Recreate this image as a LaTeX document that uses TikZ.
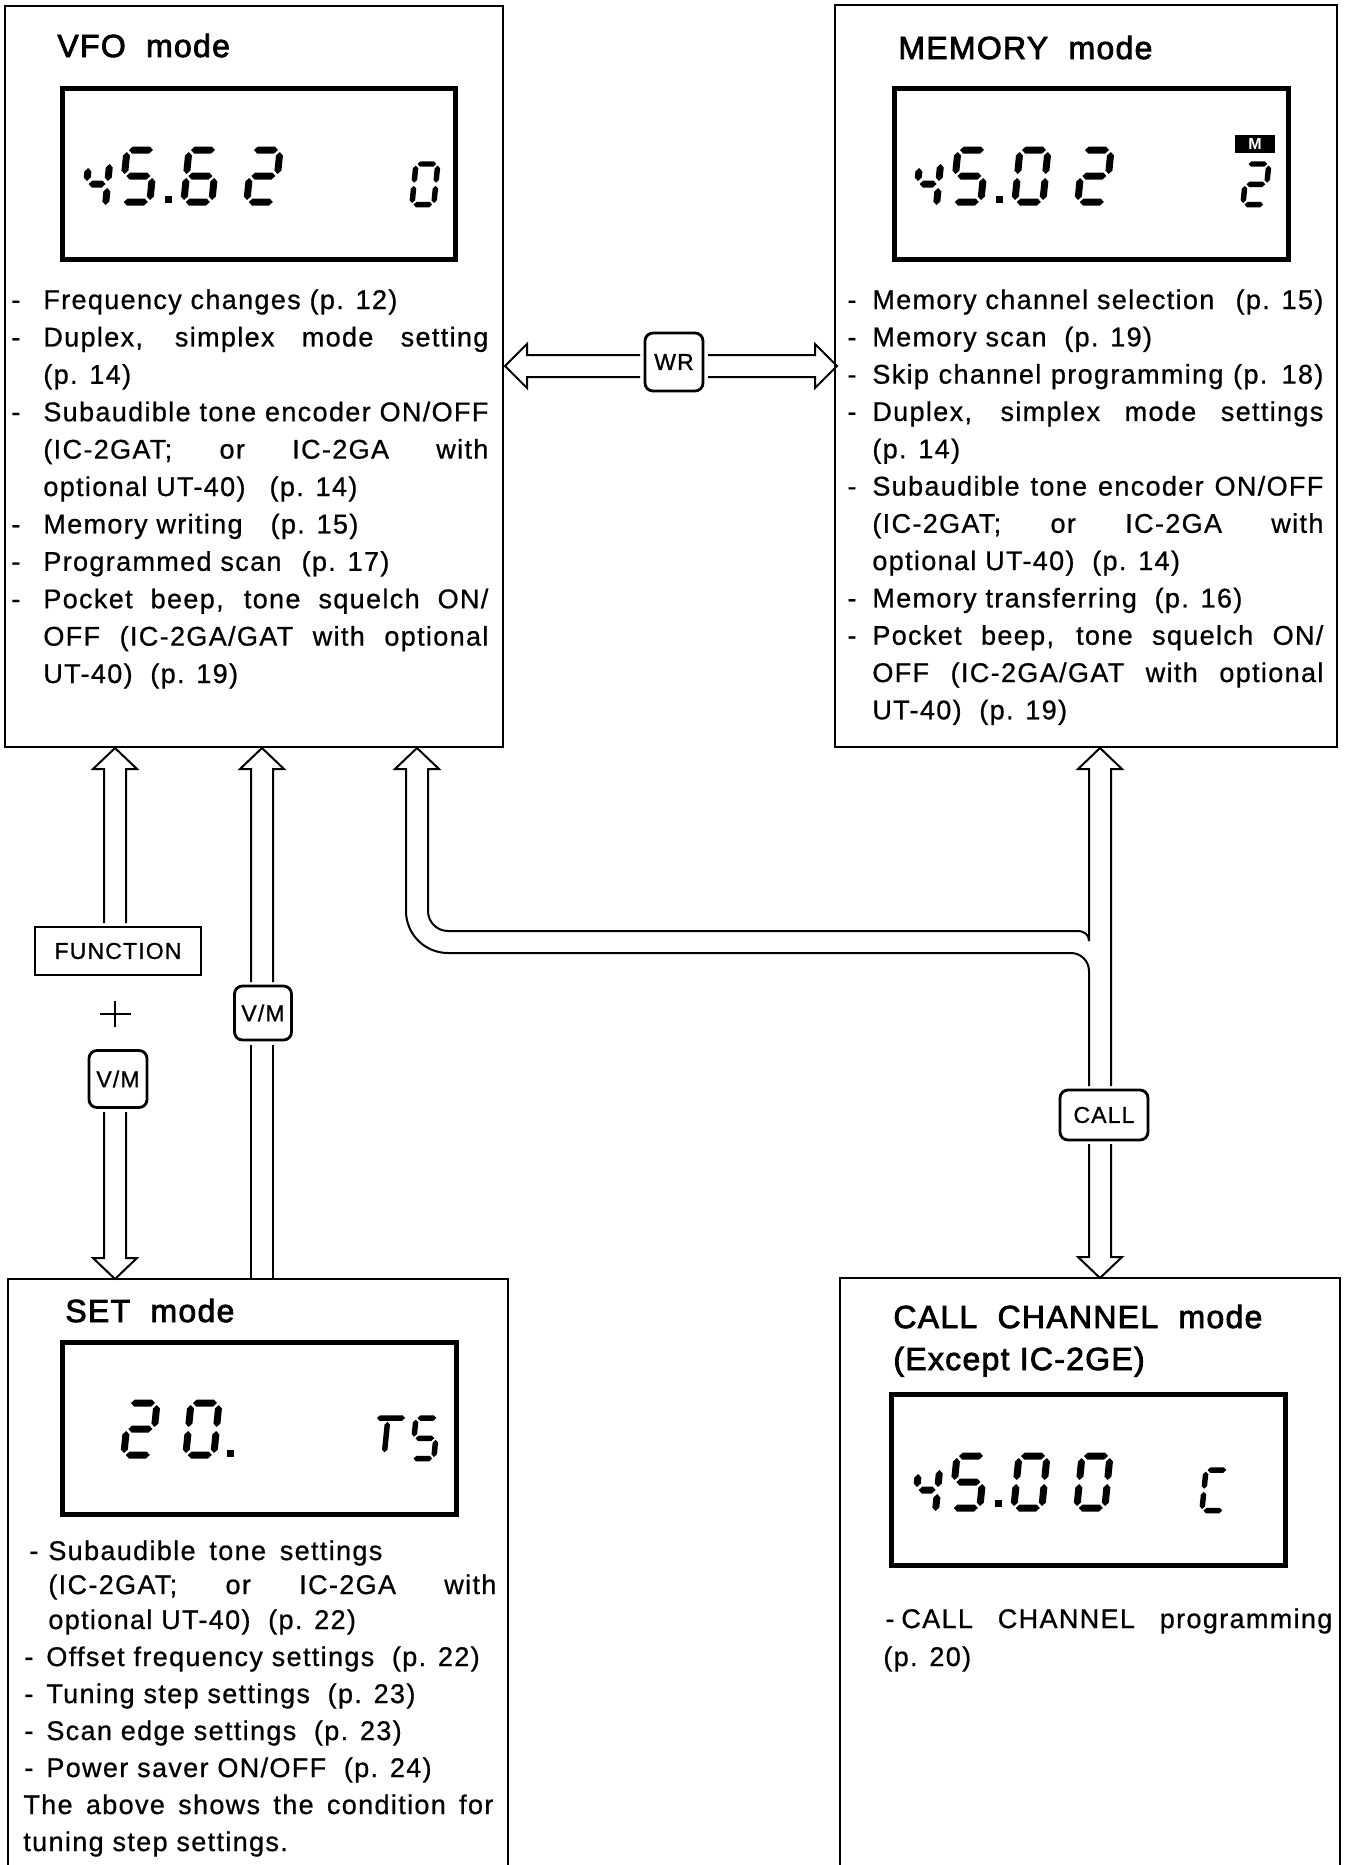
\documentclass[tikz,border=0pt]{standalone}
\usepackage{fontspec}
\setmainfont{Liberation Sans}[LetterSpace=5,FakeBold=0.8]
\newfontfamily\titlefont{Liberation Sans}[LetterSpace=4,FakeBold=2.5]
\newfontfamily\keyfont{Liberation Sans}[LetterSpace=5,FakeBold=1]
\newfontfamily\mfont{Liberation Sans Bold}
\usetikzlibrary{calc}

% seven-segment pieces (local units = px, y downwards)
\newcommand{\hsg}[3]{\fill (#1,#3) -- ({#1+3.5},{#3-3.5}) -- ({#2-3.5},{#3-3.5}) -- (#2,#3) -- ({#2-3.5},{#3+3.5}) -- ({#1+3.5},{#3+3.5}) -- cycle;}
\newcommand{\vsg}[3]{\fill (#1,#2) -- ({#1+3.5},{#2+3.5}) -- ({#1+3.5},{#3-3.5}) -- (#1,#3) -- ({#1-3.5},{#3-3.5}) -- ({#1-3.5},{#2+3.5}) -- cycle;}
\newcommand{\sega}{\hsg{2}{26}{0}}
\newcommand{\segb}{\vsg{28}{2}{24}}
\newcommand{\segc}{\vsg{28}{28}{50}}
\newcommand{\segd}{\hsg{2}{26}{52}}
\newcommand{\sege}{\vsg{0}{28}{50}}
\newcommand{\segf}{\vsg{0}{2}{24}}
\newcommand{\segg}{\hsg{2}{26}{26}}
\newcommand{\lcddig}[4][1]{\begin{scope}[shift={(#2,#3)},xslant=0.1,scale=#1]\foreach \s in {#4}{\csname seg\s\endcsname}\end{scope}}
\newcommand{\halffour}[2]{\begin{scope}[shift={(#1,#2)},xslant=0.1]\vsg{0}{18}{31}\vsg{21}{14}{31}\hsg{2}{19}{34}\vsg{21}{38}{55}\end{scope}}
\newcommand{\lcdpt}[2]{\fill ({#1-3.5},{#2-3.5}) rectangle ({#1+3.5},{#2+3.5});}

% hollow arrows
\newcommand{\uparr}[3]{\draw[hollow] ({#1-11},#3) -- ({#1-11},{#2+21}) -- ({#1-22},{#2+21}) -- (#1,#2) -- ({#1+22},{#2+21}) -- ({#1+11},{#2+21}) -- ({#1+11},#3);}
\newcommand{\downarr}[3]{\draw[hollow] ({#1-11},#3) -- ({#1-11},{#2-21}) -- ({#1-22},{#2-21}) -- (#1,#2) -- ({#1+22},{#2-21}) -- ({#1+11},{#2-21}) -- ({#1+11},#3);}
\newcommand{\shaftv}[3]{\draw[hollow] ({#1-11},#2) -- ({#1-11},#3) ({#1+11},#2) -- ({#1+11},#3);}

% text helpers
\newcommand{\js}[2]{\makebox[#1][s]{#2}}
\newcommand{\tl}[4]{\node[txt] (#1) at (#2,#3) {#4};}
\newcommand{\bl}[5]{\node[txt] (#1d) at (#2,#4) {-};\node[txt] (#1) at (#3,#4) {#5};}

\tikzset{
  frame/.style={line width=1pt},
  lcdframe/.style={draw,line width=2.4pt,inner sep=0pt,minimum width=196.7pt,minimum height=85.7pt},
  hollow/.style={line width=1pt,line join=miter},
  keyr/.style={draw,line width=1.4pt,rounded corners=4pt,inner sep=0pt,font=\keyfont\fontsize{11.5pt}{12pt}\selectfont},
  keysq/.style={draw,line width=1.3pt,inner sep=0pt,font=\keyfont\fontsize{11.5pt}{12pt}\selectfont},
  txt/.style={anchor=base west,inner sep=0pt,font=\fontsize{13.5pt}{15pt}\selectfont},
  ttl/.style={anchor=base west,inner sep=0pt,font=\titlefont\fontsize{16pt}{18pt}\selectfont},
}

\begin{document}
\begin{tikzpicture}[x=0.5pt,y=-0.5pt]
\useasboundingbox (0,0) rectangle (1347,1865);

% ---------------- mode boxes
\node[draw,frame,inner sep=0pt,minimum width=249pt,minimum height=370.5pt] (vfo) at (254,376.5) {};
\node[draw,frame,inner sep=0pt,minimum width=251pt,minimum height=371pt] (mem) at (1086,376) {};
\draw[frame] (8,1865) -- (8,1279) -- (508,1279) -- (508,1865);
\draw[frame] (840,1865) -- (840,1278) -- (1340,1278) -- (1340,1865);

% ---------------- titles
\node[ttl] (vfoT) at (57,57) {VFO\ \ mode};
\node[ttl] (memT) at (898,59) {MEMORY\ \ mode};
\node[ttl] (setT) at (65,1322) {SET\ \ mode};
\node[ttl] (callT) at (893,1328) {CALL\ \ CHANNEL\ \ mode};
\node[ttl] (callT2) at (893,1370) {(Except IC-2GE)};

% ---------------- LCDs
\node[lcdframe] (lcdV) at (259,174) {};
\node[lcdframe] (lcdM) at (1091.5,174) {};
\node[lcdframe] (lcdS) at (259.5,1428.5) {};
\node[lcdframe] (lcdC) at (1088.5,1480) {};

% VFO display 45.62  0
\halffour{90}{150}
\lcddig{127}{150}{a,f,g,c,d}
\lcdpt{168}{199}
\lcddig{189}{150}{a,f,g,e,c,d}
\lcddig{252}{150}{a,b,g,e,d}
\lcddig[0.78]{416}{164}{a,b,c,d,e,f}

% MEMORY display 45.02  M 2
\halffour{921}{150}
\lcddig{958}{150}{a,f,g,c,d}
\lcdpt{999}{199}
\lcddig{1020}{150}{a,b,c,d,e,f}
\lcddig{1083}{150}{a,b,g,e,d}
\fill (1235,135) rectangle (1275,153);
\node[text=white,inner sep=0pt,font=\mfont\fontsize{8pt}{8pt}\selectfont] (mflag) at (1255,144) {M};
\lcddig[0.78]{1247}{164}{a,b,g,e,d}

% SET display 20.  TS
\lcddig{129}{1403}{a,b,g,e,d}
\lcddig{191}{1403}{a,b,c,d,e,f}
\lcdpt{230}{1453}
\begin{scope}[shift={(377,1418)},xslant=0.1,scale=0.78]\hsg{0}{36}{0}\vsg{14}{5}{44}\end{scope}
\lcddig[0.78]{416}{1418}{a,f,g,c,d}

% CALL display 45.00  C
\halffour{920}{1456}
\lcddig{957}{1456}{a,f,g,c,d}
\lcdpt{998}{1503}
\lcddig{1019}{1456}{a,b,c,d,e,f}
\lcddig{1082}{1456}{a,b,c,d,e,f}
\lcddig[0.78]{1206}{1470}{a,f,e,d}

% ---------------- VFO text
\bl{v1}{11}{43}{309}{Frequency changes (p. 12)}
\bl{v2}{11}{43}{346.4}{\js{222.5pt}{Duplex, simplex mode setting}}
\tl{v3}{43}{383.8}{(p. 14)}
\bl{v4}{11}{43}{421.2}{\js{222.5pt}{Subaudible tone encoder ON/OFF}}
\tl{v5}{43}{458.6}{\js{222.5pt}{(IC-2GAT; or IC-2GA with}}
\tl{v6}{43}{496}{\js{157pt}{optional UT-40)\hfill(p. 14)}}
\bl{v7}{11}{43}{533.4}{\js{157.5pt}{Memory writing\hfill(p. 15)}}
\bl{v8}{11}{43}{570.8}{\js{173pt}{Programmed scan\hfill(p. 17)}}
\bl{v9}{11}{43}{608.2}{\js{222.5pt}{Pocket beep, tone squelch ON/}}
\tl{v10}{43}{645.6}{\js{222.5pt}{OFF (IC-2GA/GAT with optional}}
\tl{v11}{43}{683}{UT-40)\ \ (p. 19)}

% ---------------- MEMORY text
\bl{m1}{847}{872}{309}{\js{225.5pt}{Memory channel selection\hfill(p. 15)}}
\bl{m2}{847}{872}{346.3}{Memory scan\ \ (p. 19)}
\bl{m3}{847}{872}{383.6}{\js{225.5pt}{Skip channel programming (p. 18)}}
\bl{m4}{847}{872}{420.9}{\js{225.5pt}{Duplex, simplex mode settings}}
\tl{m5}{872}{458.2}{(p. 14)}
\bl{m6}{847}{872}{495.5}{\js{225.5pt}{Subaudible tone encoder ON/OFF}}
\tl{m7}{872}{532.8}{\js{225.5pt}{(IC-2GAT; or IC-2GA with}}
\tl{m8}{872}{570.1}{optional UT-40)\ \ (p. 14)}
\bl{m9}{847}{872}{607.4}{Memory transferring\ \ (p. 16)}
\bl{m10}{847}{872}{644.7}{\js{225.5pt}{Pocket beep, tone squelch ON/}}
\tl{m11}{872}{682}{\js{225.5pt}{OFF (IC-2GA/GAT with optional}}
\tl{m12}{872}{719.3}{UT-40)\ \ (p. 19)}

% ---------------- SET text
\bl{s1}{29}{48}{1560}{\js{167pt}{Subaudible tone settings}}
\tl{s2}{48}{1594}{\js{224pt}{(IC-2GAT; or IC-2GA with}}
\tl{s3}{48}{1629}{optional UT-40)\ \ (p. 22)}
\bl{s4}{24}{46}{1666}{Offset frequency settings\ \ (p. 22)}
\bl{s5}{24}{46}{1703}{Tuning step settings\ \ (p. 23)}
\bl{s6}{24}{46}{1740}{Scan edge settings\ \ (p. 23)}
\bl{s7}{24}{46}{1777}{Power saver ON/OFF\ \ (p. 24)}
\tl{s8}{23}{1814}{\js{235pt}{The above shows the condition for}}
\tl{s9}{23}{1851}{tuning step settings.}

% ---------------- CALL text
\bl{c1}{885}{901}{1628}{\js{215.5pt}{CALL CHANNEL programming}}
\tl{c2}{883}{1666}{(p. 20)}

% ---------------- keys
\node[keyr,minimum width=29pt,minimum height=29pt] (wr) at (674,362) {WR};
\node[keysq,minimum width=83pt,minimum height=24pt] (fn) at (118,951) {FUNCTION};
\node[keyr,minimum width=29pt,minimum height=28.5pt] (vm1) at (118,1079) {V/M};
\node[keyr,minimum width=28.5pt,minimum height=27pt] (vm2) at (263,1013) {V/M};
\node[keyr,minimum width=44pt,minimum height=25pt] (call) at (1104,1115) {CALL};
\draw[line width=1.2pt] (100,1014) -- (131,1014) (115,1001) -- (115,1027);

% ---------------- arrows
% WR double arrow
\draw[hollow] (640,355) -- (527,355) -- (527,344) -- (505,366) -- (527,388) -- (527,377) -- (640,377);
\draw[hollow] (708,355) -- (815,355) -- (815,344) -- (837,366) -- (815,388) -- (815,377) -- (708,377);
% FUNCTION + V/M (double)
\uparr{115}{748}{923}
\downarr{115}{1279}{1112}
% V/M (up)
\uparr{262}{748}{982}
\shaftv{262}{1045}{1279}
% CALL route to VFO
\draw[hollow] (1089,941) .. controls (1089,935) and (1085,931) .. (1077,931) -- (448,931)
  arc[start angle=270,end angle=180,radius=10pt] -- (428,769) -- (439,769) -- (417,748) -- (395,769) -- (406,769) -- (406,911)
  arc[start angle=180,end angle=270,radius=21pt] -- (1071,953)
  arc[start angle=90,end angle=0,radius=9pt] -- (1089,1086);
% MEMORY <-> CALL
\draw[hollow] (1089,941) -- (1089,769) -- (1078,769) -- (1100,748) -- (1122,769) -- (1111,769) -- (1111,1086);
\downarr{1100}{1278}{1144}
\end{tikzpicture}
\end{document}
